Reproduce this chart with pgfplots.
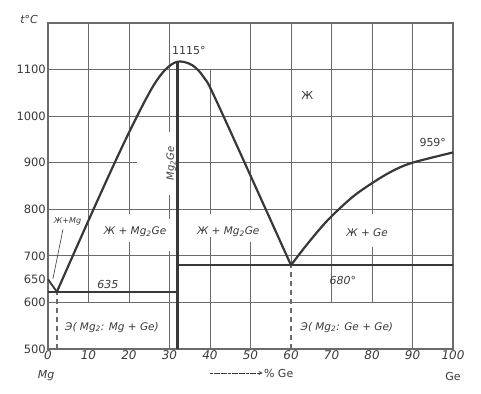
\documentclass[border=0pt]{standalone}
\usepackage{fontspec}
\setmainfont{DejaVu Sans}
\usepackage{pgfplots}
\pgfplotsset{compat=1.18}
\definecolor{gridc}{HTML}{6A6A6A}
\definecolor{curvec}{HTML}{383838}
\definecolor{textc}{HTML}{3A3A3A}
\begin{document}
\begin{tikzpicture}
\path[use as bounding box] (-48pt,-44pt) rectangle (433pt,349pt);
\begin{axis}[
  at={(0pt,0pt)}, anchor=south west,
  scale only axis, width=405pt, height=326pt,
  xmin=0, xmax=100, ymin=500, ymax=1200,
  xtick={0,10,...,100},
  ytick={500,600,650,700,800,900,1000,1100},
  major tick length=0pt,
  axis line style={draw=gridc, line width=1.3pt},
  /pgf/number format/assume math mode=true,
  /pgf/number format/1000 sep={},
  yticklabel style={font=\fontsize{11.5}{13}\selectfont, text=textc, inner sep=2pt},
  xticklabel style={font=\fontsize{12}{14}\itshape, text=textc, inner sep=1.5pt},
  clip=false,
]
% ---- grid segments ----
\begin{scope}[draw=gridc, line width=1.0pt]
\draw (axis cs:10,600) -- (axis cs:10,1200);
\draw (axis cs:20,600) -- (axis cs:20,730);
\draw (axis cs:20,790) -- (axis cs:20,1200);
\draw (axis cs:30,500) -- (axis cs:30,710);
\draw (axis cs:30,780) -- (axis cs:30,830);
\draw (axis cs:30,965) -- (axis cs:30,1200);
\draw (axis cs:40,500) -- (axis cs:40,740);
\draw (axis cs:40,790) -- (axis cs:40,1100);
\draw (axis cs:50,500) -- (axis cs:50,730);
\draw (axis cs:50,800) -- (axis cs:50,1200);
\draw (axis cs:60,680) -- (axis cs:60,1200);
\draw (axis cs:70,600) -- (axis cs:70,1200);
\draw (axis cs:80,600) -- (axis cs:80,720);
\draw (axis cs:80,790) -- (axis cs:80,1200);
\draw (axis cs:90,500) -- (axis cs:90,1200);
\draw (axis cs:0,1100) -- (axis cs:100,1100);
\draw (axis cs:0,1000) -- (axis cs:100,1000);
\draw (axis cs:0,900) -- (axis cs:22,900);
\draw (axis cs:32,900) -- (axis cs:100,900);
\draw (axis cs:0,800) -- (axis cs:100,800);
\draw (axis cs:0,700) -- (axis cs:100,700);
\draw (axis cs:0,600) -- (axis cs:100,600);
\end{scope}
\draw[gridc, line width=1.4pt, dash pattern=on 5pt off 4pt] (axis cs:60,500) -- (axis cs:60,680);
\draw[gridc, line width=1.4pt, dash pattern=on 5pt off 4pt] (axis cs:2.2,500) -- (axis cs:2.2,623);
% ---- phase lines ----
\addplot[curvec, line width=1.7pt] coordinates {(0,623) (32,623)};
\addplot[curvec, line width=1.7pt] coordinates {(32,680) (100,680)};
\addplot[curvec, line width=2.6pt] coordinates {(32,500) (32,1117)};
\addplot[curvec, line width=1.8pt] coordinates {(0,650) (1.1,636) (2.2,623)};
\addplot[curvec, line width=2.2pt, smooth, tension=0.55] coordinates {
 (2.2,623) (10,776) (17,910) (22,1000) (26,1065) (29,1100) (32,1117)
 (35.5,1110) (38.5,1083) (42,1025) (60,680)};
\addplot[curvec, line width=2.2pt, smooth, tension=0.55] coordinates {
 (60,680) (64,725) (69,776) (75,825) (80,856) (85,882) (90,900) (100,922)};
\draw[curvec, line width=0.6pt] (axis cs:3.7,757) -- (axis cs:1.2,650);
% ---- labels ----
\begin{scope}[text=textc, font=\fontsize{11}{13}\selectfont]
\node at (axis cs:34.8,1140) {1115°};
\node at (axis cs:64,1045) {Ж};
\node at (axis cs:95,944) {959°};
\node[rotate=90, font=\fontsize{10}{12}\itshape] at (axis cs:30.4,898) {Mg\textsubscript{2}Ge};
\node[font=\fontsize{8}{9}\itshape] at (axis cs:4.8,774) {Ж+Mg};
\node[font=\fontsize{10.5}{12}\itshape] at (axis cs:21.5,751) {Ж + Mg\textsubscript{2}Ge};
\node[font=\fontsize{10.5}{12}\itshape] at (axis cs:44.5,751) {Ж + Mg\textsubscript{2}Ge};
\node[font=\fontsize{10.5}{12}\itshape] at (axis cs:78.8,749) {Ж + Ge};
\node[font=\fontsize{11}{13}\itshape] at (axis cs:14.8,638) {635};
\node[font=\fontsize{11}{13}\itshape] at (axis cs:72.8,648) {680°};
\node[font=\fontsize{10.5}{12}\itshape] at (axis cs:15.8,547) {Э( Mg\textsubscript{2}: Mg + Ge)};
\node[font=\fontsize{10.5}{12}\itshape] at (axis cs:73.8,547) {Э( Mg\textsubscript{2}: Ge + Ge)};
\node[font=\fontsize{11}{13}\itshape] at ([xshift=-19pt,yshift=3pt]axis cs:0,1200) {t°C};
\node[font=\fontsize{11}{13}\itshape] at ([xshift=-2pt,yshift=-27pt]axis cs:0,500) {Mg};
\node at ([yshift=-27pt]axis cs:100,500) {Ge};
\end{scope}
\draw[->, >=stealth, textc, line width=0.8pt, dash pattern=on 3pt off 0.6pt] ([yshift=-24pt]axis cs:40,500) -- ([yshift=-24pt]axis cs:53,500)
  node[right, inner sep=1pt, font=\fontsize{11}{13}\selectfont, text=textc] {\% Ge};
\end{axis}
\end{tikzpicture}
\end{document}
